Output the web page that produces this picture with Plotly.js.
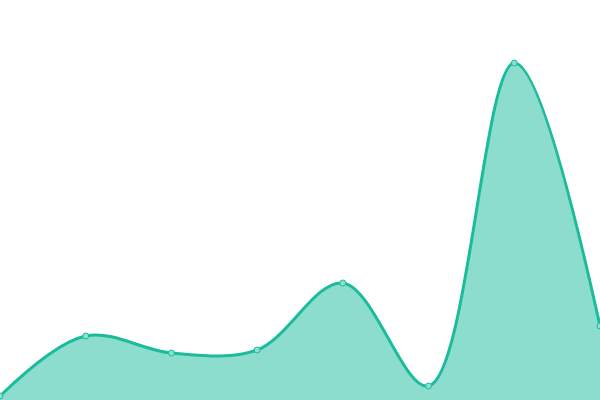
<!DOCTYPE html>
<html>
<head>
<meta charset="utf-8">
<script src="https://cdn.plot.ly/plotly-3.0.1.min.js"></script>
<style>
  html, body { margin: 0; padding: 0; background: #fff; }
  #chart { width: 600px; height: 400px; }
</style>
</head>
<body>
<div id="chart"></div>
<script>
// ─── data ───────────────────────────────────────────────
var labels = ['1', '2', '3', '4', '5', '6', '7', '8'];
var values = [4, 64, 47, 50, 117, 14, 337, 74];

var trace = {
  type: 'scatter',
  mode: 'lines+markers',
  x: labels.map(function (_, i) { return i; }),
  y: values,
  fill: 'tozeroy',
  fillcolor: 'rgba(26,188,156,0.5)',
  line: { color: '#1abc9c', width: 3, shape: 'spline', smoothing: 1 },
  marker: { size: 6, color: '#8ae0d0', line: { color: '#1abc9c', width: 1 } },
  cliponaxis: false,
  hoverinfo: 'x+y'
};

var layout = {
  width: 600, height: 400,
  margin: { l: 0, r: 0, t: 0, b: 0 },
  paper_bgcolor: '#fff',
  plot_bgcolor: '#fff',
  showlegend: false,
  xaxis: { range: [0, 7], visible: false, fixedrange: true },
  yaxis: { range: [0, 400], visible: false, fixedrange: true }
};

Plotly.newPlot('chart', [trace], layout, { displayModeBar: false, staticPlot: true });
</script>
</body>
</html>
